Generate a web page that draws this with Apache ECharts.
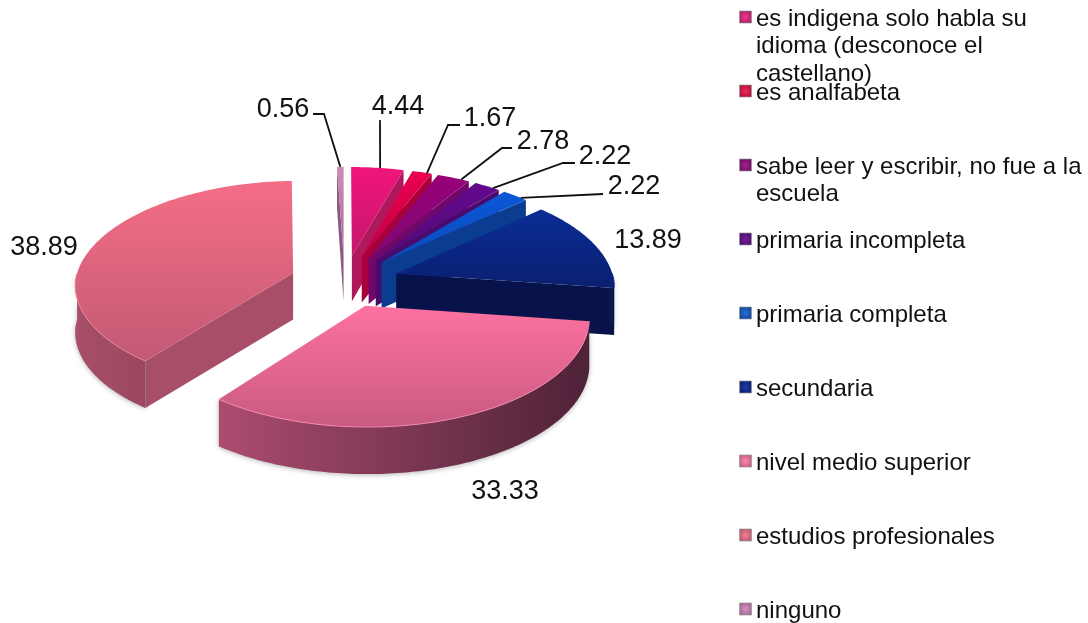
<!DOCTYPE html>
<html><head><meta charset="utf-8">
<script src="https://cdn.jsdelivr.net/npm/echarts@6/dist/echarts.min.js"></script>
<style>html,body{margin:0;padding:0;background:#fff}#c{width:1088px;height:623px}</style>
</head><body><div id="c"></div>
<script>
// ---- data ----
const categories = [
  'es indigena solo habla su\nidioma (desconoce el\ncastellano)',
  'es analfabeta',
  'sabe leer y escribir, no fue a la\nescuela',
  'primaria incompleta',
  'primaria completa',
  'secundaria',
  'nivel medio superior',
  'estudios profesionales',
  'ninguno'
];
const values = [4.44, 1.67, 2.78, 2.22, 2.22, 13.89, 33.33, 38.89, 0.56];

// ---- styling ----
const topLight = ['#f0157a','#ea0050','#990078','#640a8c','#0a58d8','#0a2d96','#fd72a0','#f56d86','#cf8ab8'];
const topDark  = ['#c4176a','#c00040','#7c0a72','#520a78','#0a4ab8','#0a1f70','#c85a80','#c25a74','#a86a98'];
const sideLeft = ['#b0185e','#a8003a','#70086a','#480a6c','#0a3c90','#07124a','#ac4c70','#a84e68','#8a5a80'];
const sideRight= ['#b0185e','#a8003a','#70086a','#480a6c','#0a3c90','#07124a','#4e2238','#9a4860','#6a4a60'];
const markerMid = ['#f03a8c','#f0285c','#a8208c','#7a1c9c','#2a70e0','#1c3aa8','#fa8ab0','#f08094','#d890c4'];
const markerEdge= ['#9c1458','#9c0a34','#5c0a58','#3c0a60','#0a3884','#0a1a60','#b45078','#b04c68','#905c84'];
const rimLight = ['#f0157a','#ea0050','#990078','#640a8c','#0a58d8','#0a2d96','#ff8fb5','#f88a9e','#cf8ab8'];

// ---- layout (projection of the pie plane) ----
const cx = 344.5, cy = 281, Rx = 218, Ry = 105, perspBack = 0.12, perspFront = 0.093, explode = 0.25, depth = 47;
const valueLabelPos = [[398,107],[490,119],[543,142],[605,157],[634,187],[648,241],[505,492],[44,248],[283,110]];
const leaderElbow = [null,[448,125],[502,148],[563,163],null,null,null,null,[324,114]];
const leaderEnd = [[380,120],[460,125],[512,148],[575,163],[603,194],null,null,null,[313,114]];
const leaderAt = [0.55,0.75,0.75,0.75,0.75,0.5,0.5,0.5,0.5];
const legendX = 756, legendMarkerX = 739, legendTop = 17, legendStep = 74, legendLine = 27.5;
const fontFamily = '"Liberation Sans", Arial, sans-serif';

const total = values.reduce((a, b) => a + b, 0);
const deg = Math.PI / 180;
const cum = [0];
values.forEach((v, i) => cum.push(cum[i] + v / total * 360));

function project(u, v) {
  const w = 1 + (v >= 0 ? perspBack : perspFront) * v;
  return { x: cx + u * Rx / w, y: cy - v * Ry / w, d: depth / Math.max(w, 1) };
}
function rimPoint(a, off) {
  const t = a * deg;
  return project(off[0] + Math.sin(t), off[1] + Math.cos(t));
}
function arc(a0, a1, off) {
  const n = Math.max(2, Math.ceil(Math.abs(a1 - a0)));
  const pts = [];
  for (let k = 0; k <= n; k++) pts.push(rimPoint(a0 + (a1 - a0) * k / n, off));
  return pts;
}
const xy = p => [p.x, p.y];
const xyDown = p => [p.x, p.y + p.d];
const vGrad = (a, b) => ({ type: 'linear', x: 0, y: 0, x2: 0, y2: 1, colorStops: [{ offset: 0, color: a }, { offset: 1, color: b }] });
const hGrad = (a, b) => ({ type: 'linear', x: 0, y: 0, x2: 1, y2: 0, colorStops: [{ offset: 0, color: a }, { offset: 1, color: b }] });

function renderSlice(params, api) {
  const i = params.dataIndex;
  const a0 = cum[i], a1 = cum[i + 1], mid = (a0 + a1) / 2;
  const off = [explode * Math.sin(mid * deg), explode * Math.cos(mid * deg)];
  const apex = project(off[0], off[1]);
  const order = i === 8 ? 0 : i + 1;
  const kids = [];
  const poly = (points, style) => kids.push({ type: 'polygon', z2: order * 10, shape: { points }, style, silent: true });

  // cut faces, only when they turn towards the viewer
  const face = a => {
    const r = rimPoint(a, off);
    poly([xy(apex), xy(r), xyDown(r), xyDown(apex)], { fill: sideLeft[i] });
  };
  if (Math.sin(a0 * deg) < -0.001) face(a0);
  if (Math.sin(a1 * deg) > 0.001) face(a1);

  // outer wall, front half only
  const s0 = Math.max(a0, 90), s1 = Math.min(a1, 270);
  if (s1 > s0) {
    const pts = arc(s0, s1, off);
    const wall = pts.map(xy).concat(pts.slice().reverse().map(xyDown));
    poly(wall, { fill: hGrad(sideLeft[i], sideRight[i]), shadowBlur: 5, shadowColor: 'rgba(90,90,90,0.45)', shadowOffsetY: 1 });
  }

  // top surface
  poly([xy(apex)].concat(arc(a0, a1, off).map(xy)), { fill: vGrad(topLight[i], topDark[i]) });

  // thin bright bevel along the front of the rim
  if (s1 > s0) {
    kids.push({ type: 'polyline', z2: order * 10 + 1, silent: true,
      shape: { points: arc(s0, s1, off).map(xy) },
      style: { fill: 'none', stroke: rimLight[i], lineWidth: 1, opacity: 0.8 } });
  }

  // value label and leader
  const anchor = rimPoint(a0 + (a1 - a0) * leaderAt[i], off);
  if (leaderEnd[i]) {
    const pts = [[anchor.x, anchor.y]];
    if (leaderElbow[i]) pts.push(leaderElbow[i]);
    pts.push(leaderEnd[i]);
    kids.push({ type: 'polyline', z2: 200, silent: true, shape: { points: pts },
      style: { fill: 'none', stroke: '#111', lineWidth: 1.8 } });
  }
  kids.push({ type: 'text', z2: 201, silent: true, style: {
    x: valueLabelPos[i][0], y: valueLabelPos[i][1], text: api.value(0).toFixed(2),
    fill: '#111', fontSize: 27, fontFamily, textAlign: 'center', textVerticalAlign: 'middle' } });

  return { type: 'group', children: kids };
}

const legendGraphics = [];
categories.forEach((name, i) => {
  const y = legendTop + i * legendStep;
  legendGraphics.push({ type: 'rect', silent: true, shape: { x: legendMarkerX + 0.5, y: y - 6, width: 12, height: 12 },
    style: { fill: { type: 'radial', x: 0.5, y: 0.5, r: 0.7, colorStops: [{ offset: 0, color: markerMid[i] }, { offset: 1, color: markerEdge[i] }] },
      stroke: 'rgba(150,150,150,0.7)', lineWidth: 1 } });
  name.split('\n').forEach((line, k) => legendGraphics.push({ type: 'text', silent: true, style: {
    x: legendX, y: y + 2 + k * legendLine, text: line, fill: '#111', fontSize: 24, fontFamily,
    textAlign: 'left', textVerticalAlign: 'middle' } }));
});

const chart = echarts.init(document.getElementById('c'), null, { renderer: 'canvas' });
chart.setOption({
  animation: false,
  backgroundColor: '#fff',
  tooltip: { show: false },
  series: [{
    type: 'custom',
    coordinateSystem: 'none',
    name: 'nivel',
    clip: false,
    renderItem: renderSlice,
    data: values.map((v, i) => ({ name: categories[i].replace(/\n/g, ' '), value: [v] }))
  }],
  graphic: { elements: legendGraphics }
});
</script></body></html>
